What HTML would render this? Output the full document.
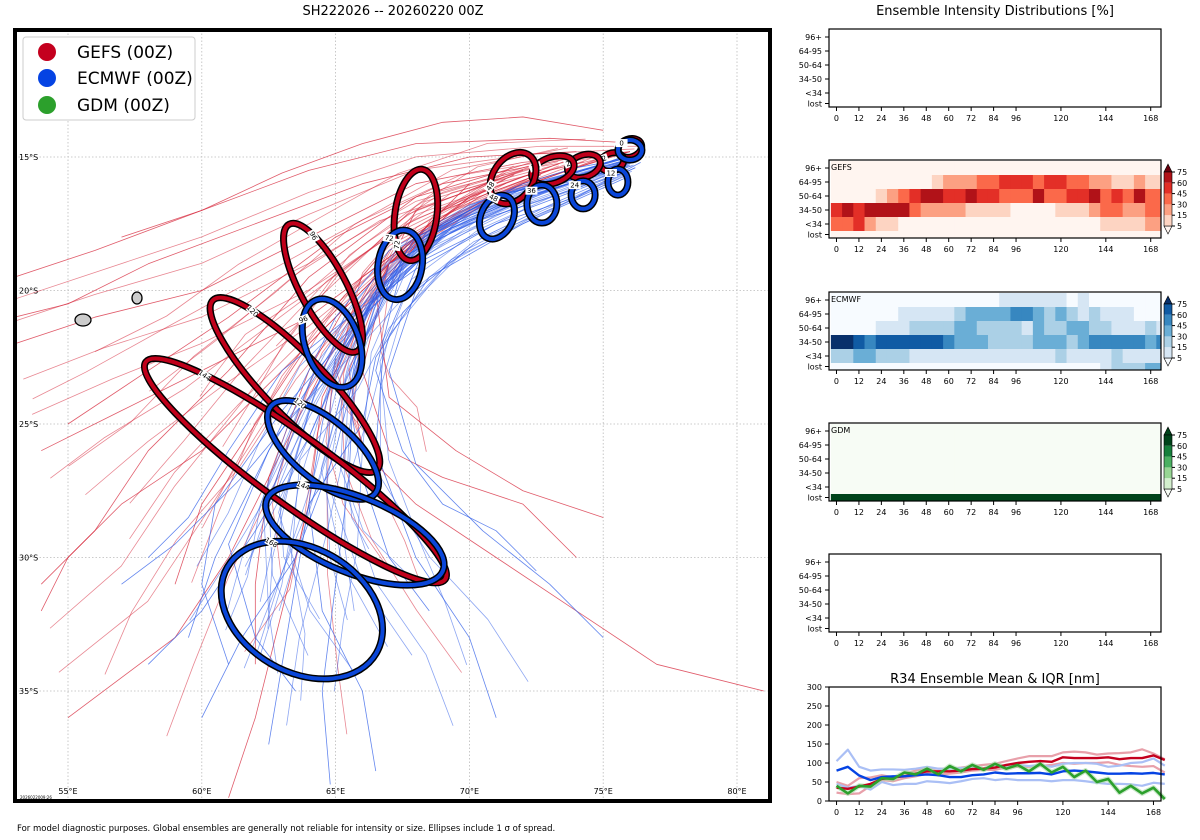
<!DOCTYPE html>
<html><head><meta charset="utf-8">
<style>
body{margin:0;background:#fff;font-family:"Liberation Sans","DejaVu Sans",sans-serif;}
#wrap{position:relative;width:1200px;height:840px;overflow:hidden;}
svg text{font-family:"DejaVu Sans","Liberation Sans",sans-serif;}
</style></head>
<body>
<div id="wrap">
<svg id="fig" width="1200" height="840" viewBox="0 0 1200 840" xmlns="http://www.w3.org/2000/svg">
<text x="393" y="15" font-size="13" text-anchor="middle">SH222026 -- 20260220 00Z</text>
<text x="995" y="15" font-size="13" text-anchor="middle">Ensemble Intensity Distributions [%]</text>
<text x="17" y="831" font-size="8.5">For model diagnostic purposes. Global ensembles are generally not reliable for intensity or size. Ellipses include 1 σ of spread.</text>
<defs><clipPath id="mapclip"><rect x="15" y="30" width="755" height="771"/></clipPath></defs>
<g id="map"></g>
<g id="panels"></g>
<g id="r34"></g>
</svg>
</div>
<script>
// ---------- MAP DATA ----------
const lonTicks=[55,60,65,70,75,80];
const latTicks=[-15,-20,-25,-30,-35];
const redTracks=[
[[76.5,-14.5],[73,-14.3],[68,-14.5],[64,-15.5],[60,-17],[56,-18.5],[53,-19.5]],
[[76,-14.8],[72,-15.2],[68,-16],[64,-18],[60,-20],[56,-21],[53,-22]],
[[76,-14.8],[72,-16],[68,-18],[64,-21],[60,-23],[57,-24.5],[54,-26]],
[[75,-15],[71,-16.5],[67,-19],[64,-22],[62,-25],[60,-28],[59,-31]],
[[74,-15],[70,-16.5],[67,-19],[65.5,-23],[66,-26],[68,-28],[71,-30],[74,-32],[77,-34],[81,-35]],
[[72,-16],[68,-18],[66,-21],[64.5,-24],[64,-28],[63,-32],[62,-36],[61,-39]],
[[73,-15.5],[69,-17],[66,-20],[63,-23],[60,-26],[57,-28],[55,-30],[54,-32]],
[[74,-14.8],[70,-15],[66,-16],[62,-17.5],[58,-19],[55,-20.5],[53,-21]],
[[70,-16],[67,-19],[66,-23],[67,-26],[69,-27],[72,-28],[74,-30]],
[[75,-14],[72,-13.5],[69,-13.7],[66,-14.5],[63,-15.6],[60,-17],[57,-18]],
[[73,-15],[68,-16.5],[64,-19.5],[61,-23],[58,-26],[56,-29],[54,-31]],
[[71,-16],[67,-18.5],[65,-22],[63,-26],[61,-30],[59,-33],[55,-36]],
[[72,-15.5],[68,-17],[66.5,-20],[67,-24],[69.5,-26],[72,-27.5],[75,-28.5]],
[[74,-15],[69,-16],[65,-18],[61,-21],[58,-23],[55,-25]],
[[70,-16.5],[66,-19.5],[64,-23],[62.5,-27],[62,-31],[62,-34]]
];
const blueTracks=[
[[76.3,-14.8],[74,-15.6],[71,-16.5],[68.5,-18],[66.5,-20],[65,-22.5],[64.5,-25],[64,-28],[63.5,-31],[63,-34],[62.5,-37]],
[[76,-15],[73,-15.8],[70,-16.8],[67,-18.5],[65,-21],[63.5,-24],[62,-27],[60.5,-30],[59.5,-33]],
[[76,-15.2],[74,-15.9],[71,-16.4],[68,-18.2],[66,-21],[65.5,-24],[66,-27],[67,-30],[68.5,-32]],
[[76.2,-15],[74,-15.4],[72,-16],[69,-17.5],[66.8,-19.5],[65.5,-22],[64,-25.5],[62,-29],[60,-32],[58,-34]],
[[76,-15.5],[73,-16.5],[70,-17.5],[67,-19],[65.7,-23],[65.5,-27],[65,-31],[64.5,-35],[64.8,-38.5]],
[[75.8,-15],[72,-16.2],[68,-18],[66,-21],[64,-24],[61.5,-27],[59,-29.5],[57,-31]],
[[76,-15.3],[72,-16.5],[69,-17.8],[67.5,-19],[66.5,-23],[67.5,-26],[69,-28],[71,-29],[72.5,-30.5]],
[[75.5,-15.4],[72,-16.6],[69,-18],[66,-21],[63,-24.5],[60.5,-28],[60,-31],[61,-34]],
[[76,-15],[72.5,-16],[70,-17],[68.5,-18],[66.8,-22],[66.5,-26],[68,-30],[70,-33],[71,-36]],
[[75.7,-15.6],[72,-17],[68,-19],[65,-22],[62.5,-26],[61,-29.5],[62,-33],[63.5,-35]],
[[76,-15.1],[73,-16],[70,-17.2],[67.5,-18.8],[66,-22],[65,-26],[63.5,-30],[61.5,-33],[60,-36]],
[[76.2,-15.4],[73,-16.8],[70.5,-18],[68,-20],[67,-23],[68,-26.5],[70.5,-29],[73,-31],[75,-33]],
[[75.8,-15.8],[72,-17.5],[68.5,-19.5],[66.5,-22.5],[66,-25],[64,-28],[64.5,-32],[66,-35],[66.5,-38]],
[[76.4,-15.2],[74,-16.5],[71,-17.5],[68,-19.2],[65.5,-21],[63,-23],[61,-26],[59.5,-28.5],[58,-30]]
];
// ellipses: lon, lat, rx(px), ry(px), rotation(deg), hour
const gefsEll=[[76.0,-14.66,12,9,-20,0],[75.33,-15.19,12,9,-20,12],[74.28,-15.34,17,11,-20,24],[73.12,-15.49,22,13,-20,36],[71.63,-15.79,28,20,-55,48],[68.0,-17.17,46,21,-82,72],[64.53,-19.9,72,23,62,96],[63.48,-23.54,118,30,46,120],[63.5,-26.75,185,34,36,144]];
const ecmEll=[[76.0,-14.74,12,10,0,0],[75.55,-15.94,10,13,0,12],[74.25,-16.42,12,14,0,24],[72.71,-16.76,15,19,0,36],[71.03,-17.25,16,23,25,48],[67.41,-19.04,22,35,10,72],[64.87,-21.97,27,46,-20,96],[64.53,-25.97,68,30,40,120],[65.72,-29.16,95,38,22,144],[63.74,-31.97,86,62,30,168]];

const NS='http://www.w3.org/2000/svg';
function mk(tag,attrs,parent){const e=document.createElementNS(NS,tag);for(const k in attrs)e.setAttribute(k,attrs[k]);parent.appendChild(e);return e;}
const X=lon=>68+(lon-55)*26.76;
const Y=lat=>157+(-15-lat)*26.7;
const map=document.getElementById('map');
const mg=mk('g',{'clip-path':'url(#mapclip)'},map);
mk('rect',{x:15,y:30,width:755,height:771,fill:'#fff'},mg);
lonTicks.forEach(l=>{const ln=mk('line',{x1:X(l),x2:X(l),y1:30,y2:801,stroke:'#bbb','stroke-width':0.8,'stroke-dasharray':'1.5,2'},mg);
 const t=mk('text',{x:X(l),y:794,'font-size':8,'text-anchor':'middle'},mg);t.textContent=l+'°E';});
latTicks.forEach(l=>{const ln=mk('line',{x1:15,x2:770,y1:Y(l),y2:Y(l),stroke:'#bbb','stroke-width':0.8,'stroke-dasharray':'1.5,2'},mg);
 const t=mk('text',{x:19,y:Y(l)+3,'font-size':8},mg);t.textContent=(-l)+'°S';});
function poly(tr,col,op){return mk('polyline',{points:tr.map(q=>X(q[0])+','+Y(q[1])).join(' '),fill:'none',stroke:col,'stroke-width':0.8,'stroke-opacity':op,'stroke-linejoin':'round'},mg);}
// blended tracks between neighbouring members for visual density
function blend(a,b,w){const n=Math.min(a.length,b.length);const out=[];for(let i=0;i<n;i++)out.push([a[i][0]*(1-w)+b[i][0]*w,a[i][1]*(1-w)+b[i][1]*w]);return out;}
function drawSet(set,col,name){
 set.forEach((tr,i)=>{const p=poly(tr,col,0.75);
  const nb=set[(i+1)%set.length];[0.33,0.66].forEach(w=>{const q=poly(blend(tr,nb,w),col,0.55);});});}
drawSet(redTracks,'#d62438','gefs-track');
drawSet(blueTracks,'#2f5de8','ecmwf-track');
// islands
const isl1=mk('ellipse',{cx:83,cy:320,rx:8,ry:6,fill:'#ccc',stroke:'#000','stroke-width':1.3},mg);
const isl2=mk('ellipse',{cx:137,cy:298,rx:5,ry:6,fill:'#ccc',stroke:'#000','stroke-width':1.3},mg);
function ell(e,col,name){const cx=X(e[0]),cy=Y(e[1]);const g=mk('g',{transform:`rotate(${e[4]} ${cx} ${cy})`},mg);
 
 mk('ellipse',{cx,cy,rx:e[2],ry:e[3],fill:'none',stroke:'#000','stroke-width':7},g);
 mk('ellipse',{cx,cy,rx:e[2],ry:e[3],fill:'none',stroke:col,'stroke-width':4},g);
 const lx=cx-e[2]*0.7,ly=cy-e[3]*0.7;
 mk('rect',{x:lx-6,y:ly-4,width:12,height:8,fill:'#fff'},g);
 const t=mk('text',{x:lx,y:ly+2.5,'font-size':7,'text-anchor':'middle'},g);t.textContent=e[5];}
gefsEll.forEach(e=>ell(e,'#c0001a','gefs-ellipse'));
ecmEll.forEach(e=>ell(e,'#0a46d8','ecmwf-ellipse'));
const stamp=mk('text',{x:20,y:799,'font-size':4},mg);stamp.textContent='2026022009:26';
const bd=mk('rect',{x:15,y:30,width:755,height:771,fill:'none',stroke:'#000','stroke-width':4},map);
// legend
const lg=mk('g',{},map);
mk('rect',{x:23,y:37,width:172,height:83,rx:3,fill:'#fff',stroke:'#ccc','stroke-width':1},lg);
[['GEFS (00Z)','#c4001e',52],['ECMWF (00Z)','#0543e3',78],['GDM (00Z)','#2ca02c',105]].forEach(r=>{
 const c=mk('circle',{cx:47,cy:r[2],r:9,fill:r[1]},lg);
 const t=mk('text',{x:77,y:r[2]+6,'font-size':17},lg);t.textContent=r[0];});

// ---------- HEATMAP DATA ----------
const rowLabels=['96+','64-95','50-64','34-50','<34','lost'];
const timeTicks=[0,12,24,36,48,60,72,84,96,120,144,168];
const cbTicks=[5,15,30,45,60,75];
const gefsRows=[
'000000000000000000000000000000',
'000000000122233444344332211211',
'000012345544544333533445343533',
'454555532222111100001112332233',
'334211000000000000000000111122',
'000000000000000000000000000000'];
const ecmRows=[
'000000000000000111111010000000',
'000000111112333344323212111000',
'000011122223322221322332211121',
'665455555543332222333234444434',
'223322211111111111112111121111',
'000000000000000000000000122233'];
const gdmRows=[
'000000000000000000000000000000',
'000000000000000000000000000000',
'000000000000000000000000000000',
'000000000000000000000000000000',
'000000000000000000000000000000',
'666666666666666666666666666666'];
const reds=['#fff5f0','#fdd4c2','#fca082','#fb694a','#e32f27','#b11218','#67000d'];
const blues=['#f7fbff','#d6e6f4','#abd0e6','#6aaed6','#3787c0','#105ba4','#08306b'];
const greens=['#f7fcf5','#d3eecd','#98d594','#4bb062','#16803c','#00441b','#00441b'];

const PX0=829,PX1=1161,T0=-4,T1=173.5;
const TX=t=>PX0+(t-T0)/(T1-T0)*(PX1-PX0);
const panels=document.getElementById('panels');
function timeAxis(g,yb){timeTicks.forEach(t=>{mk('line',{x1:TX(t),x2:TX(t),y1:yb,y2:yb+4,stroke:'#000','stroke-width':1},g);
 const tx=mk('text',{x:TX(t),y:yb+14,'font-size':8,'text-anchor':'middle'},g);tx.textContent=t;});}
function rowY(top,i){return i<5?top+1+i*14:top+71;}
function rowH(i){return i<5?14:7;}
function panel(top,rows,pal,name){
 const g=mk('g',{},panels);
 mk('rect',{x:PX0,y:top,width:PX1-PX0,height:78,fill:'#fff'},g);
 if(rows){rows.forEach((r,i)=>{for(let c=0;c<r.length;c++){const t=c*6;const x0=Math.max(TX(t-3),PX0),x1=Math.min(TX(t+3),PX1);
  const cell=mk('rect',{x:x0,y:rowY(top,i),width:x1-x0+0.4,height:rowH(i),fill:pal[+r[c]]},g);
  }});
  const lb=mk('text',{x:PX0+2,y:top+10,'font-size':8},g);lb.textContent=name.toUpperCase();
  const cb=mk('g',{},g);
  const cx=1164,cw=8,ct=top+12,cbh=54;
  mk('polygon',{points:`${cx},${ct} ${cx+cw},${ct} ${cx+cw/2},${ct-8}`,fill:pal[6],stroke:'#000','stroke-width':0.6},cb);
  mk('polygon',{points:`${cx},${ct+cbh} ${cx+cw},${ct+cbh} ${cx+cw/2},${ct+cbh+8}`,fill:pal[0],stroke:'#000','stroke-width':0.6},cb);
  for(let k=0;k<5;k++)mk('rect',{x:cx,y:ct+cbh-(k+1)*cbh/5,width:cw,height:cbh/5,fill:pal[k+1]},cb);
  mk('rect',{x:cx,y:ct,width:cw,height:cbh,fill:'none',stroke:'#000','stroke-width':0.6},cb);
  cbTicks.forEach((v,k)=>{const y=ct+cbh-k*cbh/5;mk('line',{x1:cx+cw,x2:cx+cw+3,y1:y,y2:y,stroke:'#000'},cb);
   const t=mk('text',{x:cx+cw+5,y:y+3,'font-size':8},cb);t.textContent=v;});}
 mk('rect',{x:PX0,y:top,width:PX1-PX0,height:78,fill:'none',stroke:'#000','stroke-width':1.2},g);
 rowLabels.forEach((l,i)=>{const y=rowY(top,i)+rowH(i)/2;mk('line',{x1:PX0-4,x2:PX0,y1:y,y2:y,stroke:'#000'},g);
  const t=mk('text',{x:PX0-7,y:y+3,'font-size':8,'text-anchor':'end'},g);t.textContent=l;});
 timeAxis(g,top+78);}
panel(29,null,null,'empty-top');
panel(160,gefsRows,reds,'gefs');
panel(292,ecmRows,blues,'ecmwf');
panel(423,gdmRows,greens,'gdm');
panel(554,null,null,'empty-bottom');

// ---------- R34 DATA ----------
const r34Ticks=[0,50,100,150,200,250,300];
const gefsMean=[35,32,38,45,58,62,65,72,78,78,78,80,84,85,88,95,100,103,105,103,115,113,113,113,115,110,113,113,120,108];
const gefsUpper=[50,40,60,62,68,62,72,80,85,85,85,88,92,95,98,105,112,118,118,118,128,130,128,122,125,126,128,136,125,110];
const gefsLower=[22,18,20,40,55,52,60,65,72,70,72,75,80,82,82,88,90,90,92,95,100,98,100,100,102,95,92,90,92,75];
const ecmMean=[80,90,67,55,63,65,65,68,70,68,63,63,68,70,75,72,73,73,74,70,78,80,78,75,72,72,73,72,74,70];
const ecmUpper=[105,135,90,80,83,83,82,85,90,85,85,87,88,85,95,92,95,92,95,90,98,100,100,98,90,93,100,102,112,93];
const ecmLower=[45,35,40,30,50,42,45,45,52,50,47,52,58,60,55,58,55,55,55,52,55,55,52,48,45,45,44,40,48,45];
const gdmMean=[40,20,40,38,60,58,75,70,85,70,92,78,95,82,98,85,95,78,98,75,90,63,80,50,58,22,40,20,35,5];
const r34=document.getElementById('r34');
const RY=v=>801-v/300*114;
const rt=mk('text',{x:995,y:683,'font-size':13,'text-anchor':'middle'},r34);rt.textContent='R34 Ensemble Mean & IQR [nm]';
const RT=[-4,172];const RX=t=>PX0+(t-RT[0])/(RT[1]-RT[0])*(PX1-PX0);
const rc=mk('g',{},r34);
function line(arr,col,w,op,name){const p=mk('polyline',{points:arr.map((v,i)=>RX(i*6)+','+RY(v)).join(' '),fill:'none',stroke:col,'stroke-width':w,'stroke-opacity':op,'stroke-linejoin':'round'},rc);
 }
line(gefsUpper,'#e8a0aa',2.2,1,'gefs-iqr-upper');line(gefsLower,'#e8a0aa',2.2,1,'gefs-iqr-lower');
line(ecmUpper,'#aabff5',2.2,1,'ecmwf-iqr-upper');line(ecmLower,'#aabff5',2.2,1,'ecmwf-iqr-lower');
line(gdmMean,'#a8d8a8',5,0.6,'gdm-iqr');
line(gefsMean,'#c4001e',2.4,1,'gefs-mean-line');line(ecmMean,'#0543e3',2.4,1,'ecmwf-mean-line');line(gdmMean,'#2ca02c',2.6,1,'gdm-mean-line');
mk('rect',{x:PX0,y:687,width:PX1-PX0,height:114,fill:'none',stroke:'#000','stroke-width':1.2},r34);
r34Ticks.forEach(v=>{mk('line',{x1:PX0-4,x2:PX0,y1:RY(v),y2:RY(v),stroke:'#000'},r34);
 const t=mk('text',{x:PX0-7,y:RY(v)+3,'font-size':8,'text-anchor':'end'},r34);t.textContent=v;});
timeTicks.forEach(t=>{mk('line',{x1:RX(t),x2:RX(t),y1:801,y2:805,stroke:'#000'},r34);
 const tx=mk('text',{x:RX(t),y:815,'font-size':8,'text-anchor':'middle'},r34);tx.textContent=t;});
</script>
</body></html>
